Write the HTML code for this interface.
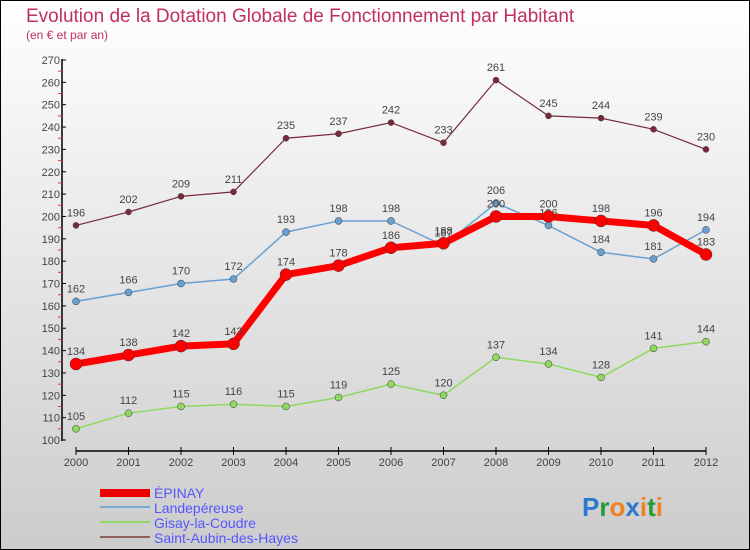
<!DOCTYPE html>
<html><head><meta charset="utf-8"><style>
html,body{margin:0;padding:0}
body{width:750px;height:550px;overflow:hidden;font-family:"Liberation Sans",sans-serif}
#wrap{position:absolute;left:0;top:0;width:748px;height:548px;border:1px solid #000;background:linear-gradient(#fff,#ccc)}
</style></head><body>
<div id="wrap">
<svg id="chart" width="750" height="550" style="position:absolute;left:-1px;top:-1px">
<text x="26" y="22" font-size="19" fill="#c0305a">Evolution de la Dotation Globale de Fonctionnement par Habitant</text>
<text x="26" y="39" font-size="12" fill="#c0305a">(en € et par an)</text>
<g id="axes"></g><g id="series"></g>
<g>
<rect x="100" y="489" width="50" height="8" fill="#e00"/>
<text x="154" y="498" font-size="14" fill="#55f">ÉPINAY</text>
<rect x="100" y="506" width="50" height="2" fill="#7aabd0"/>
<text x="154" y="513" font-size="14" fill="#55f">Landepéreuse</text>
<rect x="100" y="521" width="50" height="2" fill="#90d860"/>
<text x="154" y="528" font-size="14" fill="#55f">Gisay-la-Coudre</text>
<rect x="100" y="536" width="50" height="2" fill="#906060"/>
<text x="154" y="543" font-size="14" fill="#55f">Saint-Aubin-des-Hayes</text>
</g>
<text x="582" y="516" font-size="26" font-weight="bold"><tspan fill="#2a7ad0">P</tspan><tspan fill="#2a9a3a">r</tspan><tspan fill="#f08020">o</tspan><tspan fill="#2a7ad0">x</tspan><tspan fill="#f08020">i</tspan><tspan fill="#2a9a3a">t</tspan><tspan fill="#f08020">i</tspan></text>
</svg>
</div>
<script>
const years=[2000,2001,2002,2003,2004,2005,2006,2007,2008,2009,2010,2011,2012];
const epinay=[134,138,142,143,174,178,186,188,200,200,198,196,183];
const landepereuse=[162,166,170,172,193,198,198,187,206,196,184,181,194];
const gisay=[105,112,115,116,115,119,125,120,137,134,128,141,144];
const saintAubin=[196,202,209,211,235,237,242,233,261,245,244,239,230];
const yTicks=[100,110,120,130,140,150,160,170,180,190,200,210,220,230,240,250,260,270];
const NS="http://www.w3.org/2000/svg";
const xs=i=>76+i*52.5;
const ys=v=>440-(v-100)*2.2353;
function mk(t,a,p){const e=document.createElementNS(NS,t);for(const k in a)e.setAttribute(k,a[k]);p.appendChild(e);return e;}
const ax=document.getElementById('axes');
let l=mk('line',{x1:62,y1:59,x2:62,y2:441,stroke:'#000','stroke-width':1.5},ax);


yTicks.forEach(v=>{
 const y=ys(v);
 let t=mk('line',{x1:62,x2:66,y1:y,y2:y,stroke:'#000'},ax);
 
 
 if(v<270){let m=mk('line',{x1:58,x2:62,y1:ys(v+5),y2:ys(v+5),stroke:'#e33'},ax);
 
 }
 let tx=mk('text',{x:60,y:y+4,'font-size':11,fill:'#444','text-anchor':'end'},ax);tx.textContent=v;
 
 
});
l=mk('line',{x1:76,y1:451,x2:706,y2:451,stroke:'#000','stroke-width':1.5},ax);


years.forEach((yr,i)=>{
 let t=mk('line',{x1:xs(i),x2:xs(i),y1:447,y2:455,stroke:'#000'},ax);
 
 
 let tx=mk('text',{x:xs(i),y:466,'font-size':11,fill:'#444','text-anchor':'middle'},ax);tx.textContent=yr;
 
 
});
const sg=document.getElementById('series');
function series(vals,color,w,r,name){
 const g=mk('g',{},sg);
 
 
 let p=mk('polyline',{points:vals.map((v,i)=>xs(i)+','+ys(v)).join(' '),fill:'none',stroke:color,'stroke-width':w},g);
 
 
 vals.forEach((v,i)=>{
  let c=mk('circle',{cx:xs(i),cy:ys(v),r:r,fill:color,stroke:'#333','stroke-width':0.5},g);
  
  
  let tx=mk('text',{x:xs(i),y:ys(v)-9,'font-size':11,fill:'#444','text-anchor':'middle'},g);tx.textContent=v;
  
  
 });
}
series(gisay,'#90d860',1.5,3.5,'gisay');
series(saintAubin,'#7a2a3a',1.2,3,'saint-aubin');
series(landepereuse,'#6aa0d0',1.5,3.5,'landepereuse');
series(epinay,'#f00',7,6,'epinay');
</script>
</body></html>
